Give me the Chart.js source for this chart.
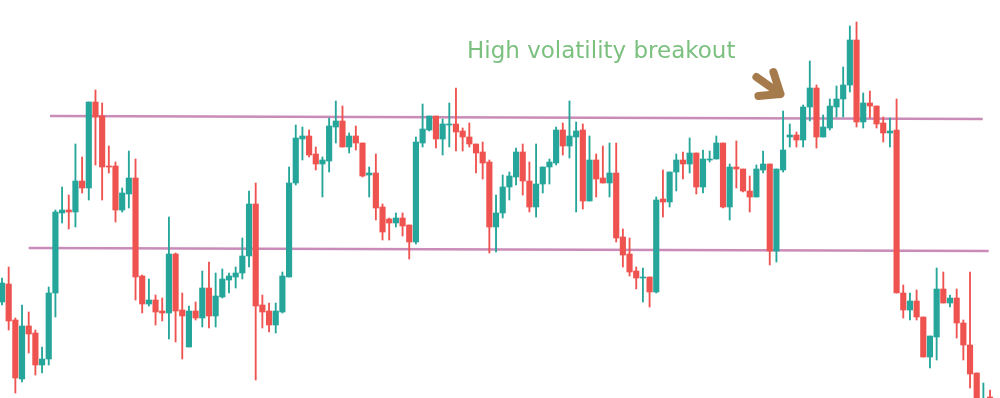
<!DOCTYPE html>
<html>
<head>
<meta charset="utf-8">
<script src="https://cdn.jsdelivr.net/npm/chart.js@4.4.0/dist/chart.umd.min.js"></script>
<style>
  html, body { margin: 0; padding: 0; background: #fff; }
  #wrap { width: 1000px; height: 398px; }
</style>
</head>
<body>
<div id="wrap"><canvas id="candles" width="1000" height="398"></canvas></div>
<script>
// price data, one entry per candle
var opens = [98,116,80,21,74,67,35,41,107,187,
  190,188,219,212,298,284,234,234,190,206,
  222,124,96,100,89,87,146,90,53,89,
  82,112,84,103,120,123,127,144,196,95,
  89,75,88,123,217,261,264,246,236,239,
  273,279,253,264,257,225,227,193,181,177,
  182,175,158,257,270,284,261,275,276,269,
  263,256,248,238,173,187,213,223,248,219,
  193,216,233,237,270,254,263,270,199,240,
  222,217,227,163,146,129,122,123,108,201,
  198,228,240,236,247,213,240,241,257,193,
  233,231,209,203,230,236,149,230,263,265,
  260,293,312,263,272,293,301,315,360,278,
  297,294,277,267,270,107,90,99,83,43,
  63,111,97,102,77,55,27,-15,3];
var highs = [122,133,82,95,88,70,53,113,190,213,
  205,256,243,298,310,297,254,238,212,249,
  241,125,121,105,102,183,147,107,94,98,
  129,138,127,131,127,133,162,209,217,105,
  97,97,128,233,275,273,270,253,243,282,
  299,294,267,274,257,233,246,196,182,187,
  187,175,263,296,284,284,281,297,312,272,
  277,256,258,240,205,225,228,252,256,238,
  256,233,241,273,277,299,278,276,264,246,
  254,257,257,171,162,133,132,123,203,230,
  228,246,248,262,247,250,249,264,257,236,
  259,231,224,235,249,236,231,289,276,268,
  295,339,315,285,301,314,333,374,378,307,
  309,294,283,282,301,115,107,110,83,64,
  132,128,105,111,80,128,27,17,10];
var lows = [95,70,7,18,47,25,27,35,83,177,
  171,173,207,200,235,200,227,178,188,192,
  100,87,94,75,79,61,58,41,53,80,
  73,72,73,102,107,112,121,133,20,72,
  68,67,87,123,215,240,243,230,203,228,
  257,253,247,250,223,203,180,160,160,173,
  164,141,156,253,269,252,245,253,249,249,
  253,227,221,147,148,182,200,215,205,188,
  183,207,216,235,245,242,188,191,199,203,
  217,203,158,133,124,111,98,93,107,183,
  193,209,221,227,206,207,238,241,192,180,
  212,208,188,203,227,135,138,228,253,253,
  253,279,252,263,270,283,283,308,273,272,
  282,272,258,253,107,82,80,80,43,32,
  40,97,93,62,40,12,-15,-20,-15];
var closes = [117,79,22,74,66,35,41,107,188,190,
  188,219,212,298,283,233,233,190,207,222,
  123,96,100,88,87,146,89,84,89,82,
  112,84,104,121,124,127,144,196,94,88,
  75,89,124,217,262,264,245,236,240,274,
  279,253,264,257,224,227,192,168,177,182,
  174,158,258,271,284,261,276,276,268,263,
  256,247,237,173,187,213,224,248,219,193,
  216,233,238,270,254,264,269,199,240,221,
  217,227,162,145,128,122,123,108,200,198,
  228,240,236,247,213,241,241,257,193,233,
  231,209,203,231,236,149,231,250,265,260,
  293,312,263,273,294,301,315,360,278,297,
  294,276,267,269,107,90,99,83,43,64,
  111,97,102,77,55,26,-5,-2,-10];

// support / resistance lines (candle index, price)
var resistX = [7.2, 146.9];
var resistY = [284, 281];
var supportX = [4.0, 147.8];
var supportY = [152, 149];

var noteText = "High volatility breakout";
var noteAt = [69.65, 342];
var arrowTip = [116.6, 306];

var up = "#26a69a";
var down = "#ef5350";

var bodies = [], wicks = [];
for (var i = 0; i < opens.length; i++) {
  bodies.push({x: i, y: [opens[i], closes[i]]});
  wicks.push({x: i, y: [lows[i], highs[i]]});
}
function candleColor(c) {
  var i = c.dataIndex;
  return closes[i] >= opens[i] ? up : down;
}
function toPoints(xs, ys) {
  return xs.map(function (x, k) { return {x: x, y: ys[k]}; });
}

var annotate = {
  id: 'annotate',
  afterDatasetsDraw: function (chart) {
    var c = chart.ctx, sx = chart.scales.x, sy = chart.scales.y;
    c.save();
    c.font = '23px "DejaVu Sans"';
    c.fillStyle = '#7cc080';
    c.textBaseline = 'alphabetic';
    c.fillText(noteText, sx.getPixelForValue(noteAt[0]), sy.getPixelForValue(noteAt[1]));

    // brown arrow pointing down-right at the breakout
    var tx = sx.getPixelForValue(arrowTip[0]), ty = sy.getPixelForValue(arrowTip[1]);
    c.strokeStyle = '#a67b4b';
    c.lineWidth = 8;
    c.lineCap = 'round';
    c.lineJoin = 'round';
    c.beginPath();
    c.moveTo(tx - 24, ty - 17);
    c.lineTo(tx, ty);
    c.moveTo(tx - 7, ty - 22);
    c.lineTo(tx, ty);
    c.lineTo(tx - 22, ty + 2);
    c.stroke();
    c.restore();
  }
};

new Chart(document.getElementById('candles'), {
  type: 'bar',
  data: {
    datasets: [
      {
        label: 'body', data: bodies, grouped: false, order: 0,
        backgroundColor: candleColor, barThickness: 5.5, minBarLength: 1, borderWidth: 0
      },
      {
        label: 'wick', data: wicks, grouped: false, order: 1,
        backgroundColor: candleColor, barThickness: 1.2, borderWidth: 0
      },
      {
        type: 'line', label: 'resistance', data: toPoints(resistX, resistY), order: 2,
        borderColor: '#c98bb7', borderWidth: 2.5, pointRadius: 0, tension: 0
      },
      {
        type: 'line', label: 'support', data: toPoints(supportX, supportY), order: 2,
        borderColor: '#c98bb7', borderWidth: 2.5, pointRadius: 0, tension: 0
      }
    ]
  },
  options: {
    responsive: false,
    animation: false,
    layout: { padding: 0 },
    plugins: { legend: { display: false }, tooltip: { enabled: false } },
    scales: {
      x: { type: 'linear', min: -0.3, max: 149.49, offset: false, display: false },
      y: { type: 'linear', min: 2, max: 400, display: false }
    }
  },
  plugins: [annotate]
});
</script>
</body>
</html>
